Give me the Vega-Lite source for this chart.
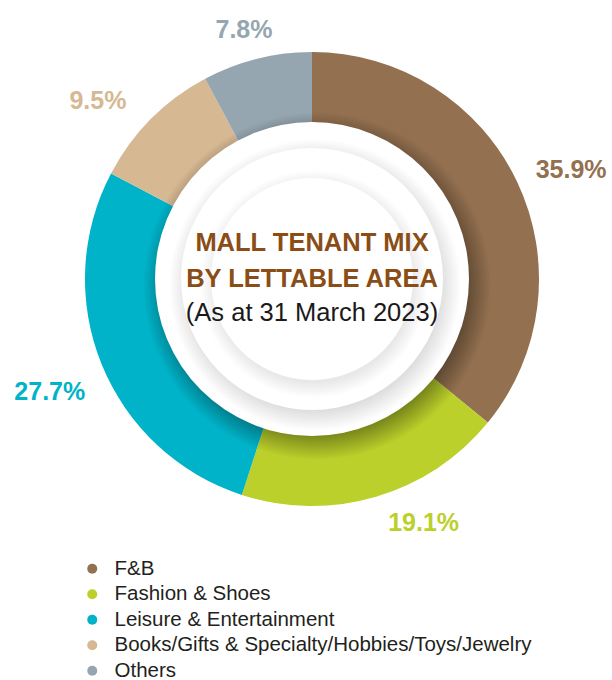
{
  "$schema": "https://vega.github.io/schema/vega-lite/v6.json",
  "width": 600,
  "height": 558,
  "autosize": {"type": "none"},
  "padding": {"left": 12, "top": 0, "right": 0, "bottom": 122},
  "background": "white",
  "config": {"view": {"stroke": null}, "font": "Liberation Sans"},
  "datasets": {
    "mix": [
      {"rank": 1, "category": "F&B", "share": 0.359},
      {"rank": 2, "category": "Fashion & Shoes", "share": 0.191},
      {"rank": 3, "category": "Leisure & Entertainment", "share": 0.277},
      {"rank": 4, "category": "Books/Gifts & Specialty/Hobbies/Toys/Jewelry", "share": 0.095},
      {"rank": 5, "category": "Others", "share": 0.078}
    ],
    "one": [{}]
  },
  "layer": [
    {
      "data": {"name": "mix"},
      "mark": {"type": "arc", "radius": 227, "radius2": 140},
      "encoding": {
        "theta": {"field": "share", "type": "quantitative", "stack": true},
        "order": {"field": "rank", "type": "quantitative"},
        "color": {
          "field": "category",
          "type": "nominal",
          "sort": ["F&B", "Fashion & Shoes", "Leisure & Entertainment", "Books/Gifts & Specialty/Hobbies/Toys/Jewelry", "Others"],
          "scale": {
            "domain": ["F&B", "Fashion & Shoes", "Leisure & Entertainment", "Books/Gifts & Specialty/Hobbies/Toys/Jewelry", "Others"],
            "range": ["#93704F", "#BBD02A", "#00B3C9", "#D6B893", "#96A6B0"]
          },
          "legend": {
            "title": null,
            "orient": "none",
            "legendX": 70,
            "legendY": 558.5,
            "direction": "vertical",
            "symbolType": "circle",
            "symbolSize": 100,
            "symbolStrokeWidth": 0,
            "labelFontSize": 20.5,
            "labelColor": "#231F20",
            "labelFont": "Liberation Sans",
            "labelOffset": 12,
            "rowPadding": 4.5,
            "labelLimit": 600,
            "padding": 0
          }
        }
      }
    },
    {
      "data": {"name": "one"},
      "mark": {
        "type": "arc", "theta": 0, "theta2": 6.2832, "radius": 174, "xOffset": 5, "yOffset": 7,
        "fill": {"gradient": "radial", "x1": 0.5, "y1": 0.5, "r1": 0, "x2": 0.5, "y2": 0.5, "r2": 0.5,
          "stops": [
            {"offset": 0, "color": "rgba(0,0,0,0.4)"},
            {"offset": 0.86, "color": "rgba(0,0,0,0.34)"},
            {"offset": 1, "color": "rgba(0,0,0,0)"}
          ]}
      },
      "encoding": {}
    },
    {
      "data": {"name": "one"},
      "mark": {"type": "arc", "theta": 0, "theta2": 6.2832, "radius": 157, "fill": "white"},
      "encoding": {}
    },
    {
      "data": {"name": "one"},
      "mark": {
        "type": "arc", "theta": 0, "theta2": 6.2832, "radius": 146, "xOffset": 3, "yOffset": 6,
        "fill": {"gradient": "radial", "x1": 0.5, "y1": 0.5, "r1": 0, "x2": 0.5, "y2": 0.5, "r2": 0.5,
          "stops": [
            {"offset": 0, "color": "rgba(0,0,0,0.18)"},
            {"offset": 0.86, "color": "rgba(0,0,0,0.13)"},
            {"offset": 1, "color": "rgba(0,0,0,0)"}
          ]}
      },
      "encoding": {}
    },
    {
      "data": {"name": "one"},
      "mark": {"type": "arc", "theta": 0, "theta2": 6.2832, "radius": 131, "fill": "white"},
      "encoding": {}
    },
    {
      "data": {"name": "one"},
      "mark": {
        "type": "arc", "theta": 0, "theta2": 6.2832, "radius": 114, "xOffset": 2, "yOffset": 5,
        "fill": {"gradient": "radial", "x1": 0.5, "y1": 0.5, "r1": 0, "x2": 0.5, "y2": 0.5, "r2": 0.5,
          "stops": [
            {"offset": 0, "color": "rgba(0,0,0,0.12)"},
            {"offset": 0.86, "color": "rgba(0,0,0,0.09)"},
            {"offset": 1, "color": "rgba(0,0,0,0)"}
          ]}
      },
      "encoding": {}
    },
    {
      "data": {"name": "one"},
      "mark": {"type": "arc", "theta": 0, "theta2": 6.2832, "radius": 101, "fill": "white"},
      "encoding": {}
    },
    {
      "data": {"name": "mix"},
      "layer": [
        {"transform": [{"filter": "datum.rank == 1"}], "mark": {"type": "text", "radius": 268, "fontSize": 25, "fontWeight": "bold", "dx": 17, "dy": 6}},
        {"transform": [{"filter": "datum.rank == 2"}], "mark": {"type": "text", "radius": 268, "fontSize": 25, "fontWeight": "bold", "dx": 36, "dy": -13}},
        {"transform": [{"filter": "datum.rank == 3"}], "mark": {"type": "text", "radius": 268, "fontSize": 25, "fontWeight": "bold", "dx": -14, "dy": 12}},
        {"transform": [{"filter": "datum.rank == 4"}], "mark": {"type": "text", "radius": 268, "fontSize": 25, "fontWeight": "bold", "dx": -24, "dy": 11}},
        {"transform": [{"filter": "datum.rank == 5"}], "mark": {"type": "text", "radius": 268, "fontSize": 25, "fontWeight": "bold", "dx": -3, "dy": 11}}
      ],
      "transform": [
        {"window": [{"op": "sum", "field": "share", "as": "cum"}], "sort": [{"field": "rank"}]},
        {"calculate": "datum.cum - datum.share / 2", "as": "mid"}
      ],
      "encoding": {
        "theta": {"field": "mid", "type": "quantitative", "scale": {"domain": [0, 1]}},
        "text": {"field": "share", "type": "quantitative", "format": ".1%"},
        "color": {"field": "category", "type": "nominal", "legend": null}
      }
    },
    {
      "data": {"name": "one"},
      "mark": {"type": "text", "text": "MALL TENANT MIX", "fontSize": 25.5, "fontWeight": "bold", "color": "#8A4D16", "dy": -36},
      "encoding": {}
    },
    {
      "data": {"name": "one"},
      "mark": {"type": "text", "text": "BY LETTABLE AREA", "fontSize": 25.5, "fontWeight": "bold", "color": "#8A4D16", "dy": 0},
      "encoding": {}
    },
    {
      "data": {"name": "one"},
      "mark": {"type": "text", "text": "(As at 31 March 2023)", "fontSize": 25.5, "color": "#1A1A1A", "dy": 34},
      "encoding": {}
    }
  ]
}
